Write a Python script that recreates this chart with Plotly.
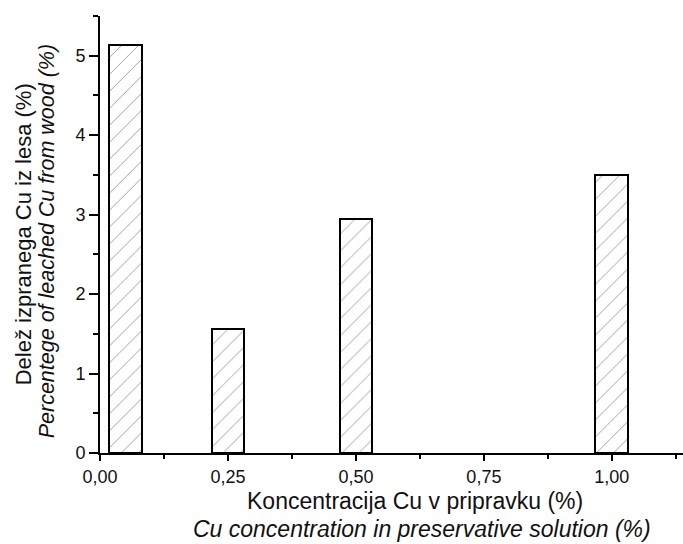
import plotly.graph_objects as go

conc = [0.05, 0.25, 0.50, 1.00]
leached = [5.13, 1.56, 2.95, 3.50]
x_ticks = [0.0, 0.25, 0.5, 0.75, 1.0]
y_ticks = [0, 1, 2, 3, 4, 5]

fig = go.Figure()
fig.add_trace(go.Bar(
    x=conc, y=leached, width=0.064,
    marker=dict(color="white",
                line=dict(color="black", width=2),
                pattern=dict(shape="/", fgcolor="#000", bgcolor="white", size=12, solidity=0.06)),
    showlegend=False,
))

font = "Liberation Sans, Arial, sans-serif"
fig.update_layout(
    width=683, height=544,
    margin=dict(l=100, r=0, t=16, b=91),
    plot_bgcolor="white", paper_bgcolor="white",
    separators=", ",
    font=dict(family=font, color="#111", size=18),
    bargap=0,
)
fig.update_xaxes(
    range=[0, 1.139], tickvals=x_ticks, tickformat=".2f",
    showline=True, linewidth=2, linecolor="black", mirror=False,
    ticks="outside", ticklen=6, tickwidth=2, tickcolor="black",
    showgrid=False, zeroline=False,
    tickfont=dict(size=18),
    minor=dict(dtick=0.125, tick0=0, ticks="outside", ticklen=4, tickwidth=2, tickcolor="black"),
)
fig.update_yaxes(
    range=[0, 5.5], tickvals=y_ticks,
    showline=True, linewidth=2, linecolor="black",
    ticks="outside", ticklen=9, tickwidth=2, tickcolor="black",
    showgrid=False, zeroline=False,
    tickfont=dict(size=18),
    minor=dict(dtick=0.5, tick0=0, ticks="outside", ticklen=5, tickwidth=2, tickcolor="black"),
)

fig.add_annotation(text="Koncentracija Cu v pripravku (%)", xref="paper", yref="paper",
                   x=(415 - 100) / 583, y=-(501 - 452.7) / 437, showarrow=False,
                   font=dict(size=23, family=font, color="#111"), xanchor="center", yanchor="middle")
fig.add_annotation(text="<i>Cu concentration in preservative solution (%)</i>", xref="paper", yref="paper",
                   x=(422 - 100) / 583, y=-(529 - 452.7) / 437, showarrow=False,
                   font=dict(size=23, family=font, color="#111"), xanchor="center", yanchor="middle")
fig.add_annotation(text="Delež izpranega Cu iz lesa (%)", xref="paper", yref="paper",
                   x=-(100 - 23) / 583, y=(452.7 - 234) / 437, showarrow=False, textangle=-90,
                   font=dict(size=22, family=font, color="#111"), xanchor="center", yanchor="middle")
fig.add_annotation(text="<i>Percentege of leached Cu from wood (%)</i>", xref="paper", yref="paper",
                   x=-(100 - 47) / 583, y=(452.7 - 241) / 437, showarrow=False, textangle=-90,
                   font=dict(size=21.5, family=font, color="#111"), xanchor="center", yanchor="middle")

fig.write_html("out.html", config={"displayModeBar": False},
               post_script="document.body.style.margin='0';document.body.style.overflow='hidden';")
